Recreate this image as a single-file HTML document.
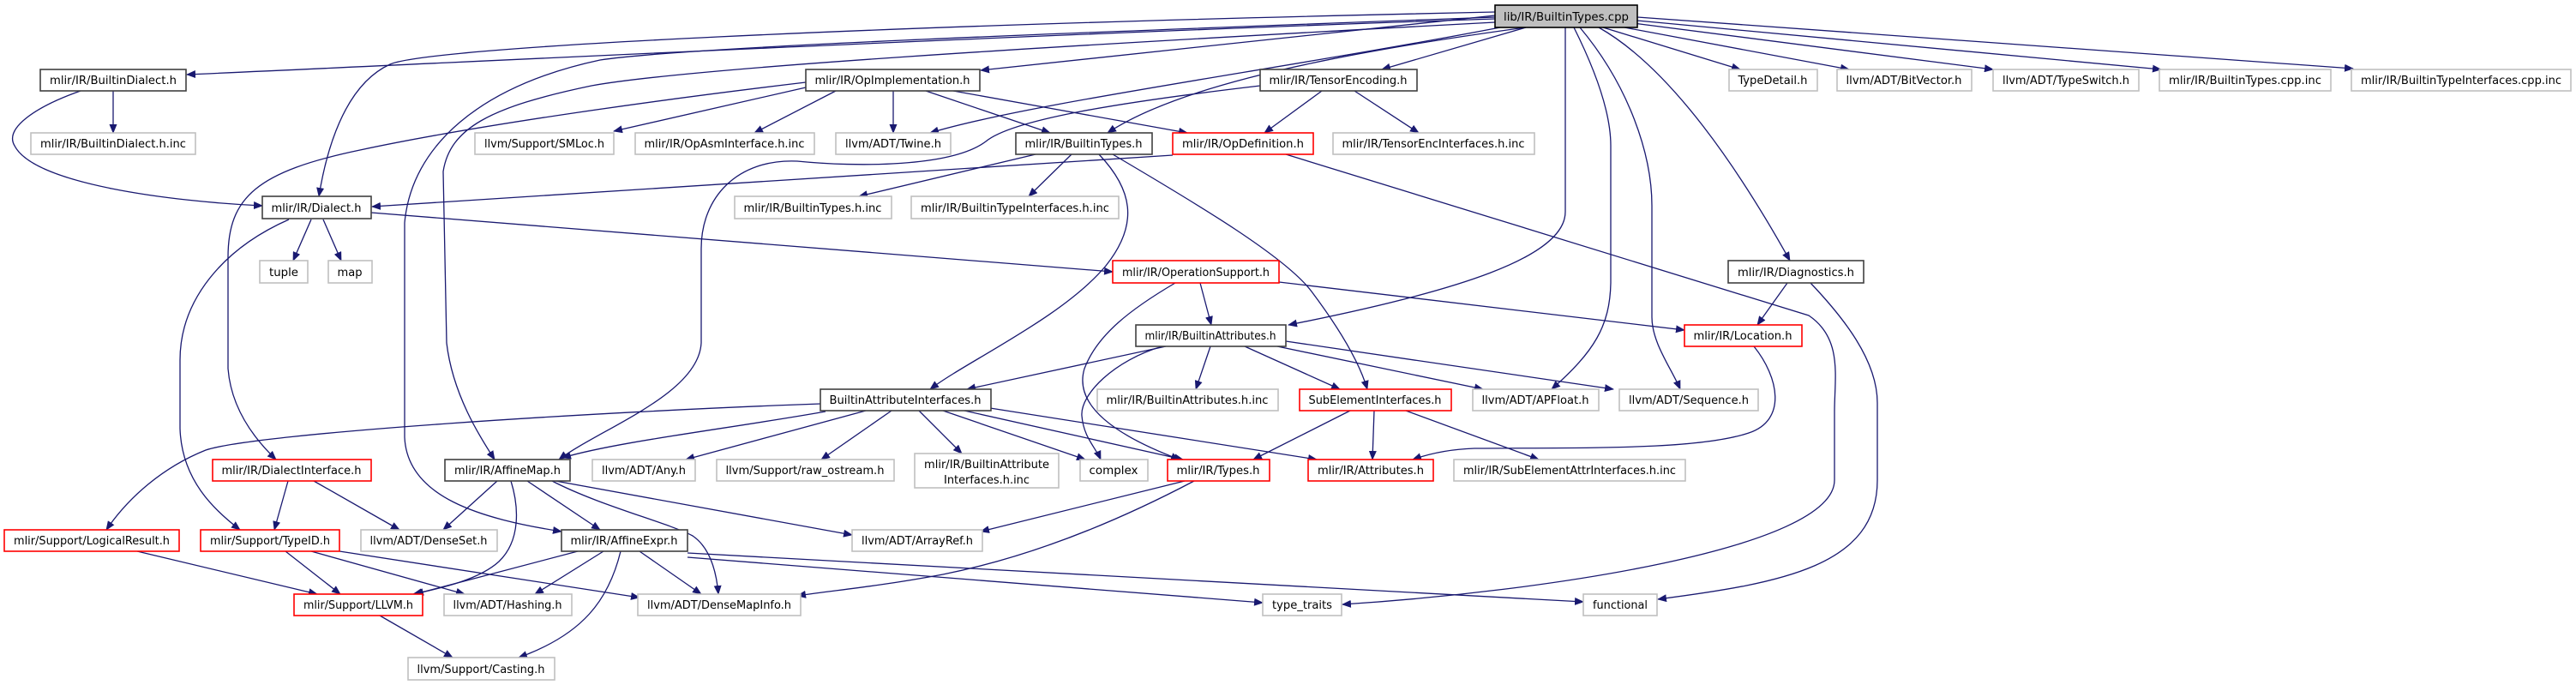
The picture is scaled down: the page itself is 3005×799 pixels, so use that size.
<!DOCTYPE html>
<html><head><meta charset="utf-8">
<style>
html,body{margin:0;padding:0;background:#fff;}
svg{display:block;}
text{font-family:"DejaVu Sans Condensed","DejaVu Sans","Liberation Sans",sans-serif;font-size:13px;fill:#000;text-anchor:middle;}
.e{fill:none;stroke:#191970;stroke-width:1.3;marker-end:url(#a);}
.k{fill:#fff;stroke:#404040;stroke-width:1.6;}
.g{fill:#fff;stroke:#bfbfbf;stroke-width:1.6;}
.r{fill:#fff;stroke:#ff0000;stroke-width:1.6;}
</style></head><body>
<svg width="3005" height="799" viewBox="0 0 3005 799" xmlns="http://www.w3.org/2000/svg">
<defs><marker id="a" markerWidth="11" markerHeight="9" refX="10" refY="4.5" orient="auto" markerUnits="userSpaceOnUse"><path d="M0,0 L11,4.5 L0,9z" fill="#191970"/></marker></defs>
<g>
<path class="e" d="M1744,22 C1200,40 600,70 218,87"/>
<path class="e" d="M1744,14 C1000,30 500,55 455,75 C400,100 380,180 372,229"/>
<path class="e" d="M1744,18 L1144,82"/>
<path class="e" d="M1750,32 C1500,80 1200,120 1085,155"/>
<path class="e" d="M1780,32 C1500,70 1360,110 1292,155"/>
<path class="e" d="M1744,26 C1200,55 800,80 690,100 C570,125 525,150 517,200 L521,400 C528,460 560,510 577,536"/>
<path class="e" d="M1744,20 C1200,40 800,55 700,70 C560,100 480,170 472,260 L472,510 C475,580 560,605 655,620"/>
<path class="e" d="M1780,32 L1612,81"/>
<path class="e" d="M1826,32 L1826,247 C1826,300 1700,340 1503,379"/>
<path class="e" d="M1836,32 C1860,80 1879,130 1879,170 L1879,330 C1878,380 1860,410 1810,454"/>
<path class="e" d="M1843,32 C1900,100 1927,180 1927,240 L1927,370 C1927,400 1950,430 1960,454"/>
<path class="e" d="M1865,32 C1950,80 2030,200 2088,304"/>
<path class="e" d="M1870,32 L2030,81"/>
<path class="e" d="M1895,32 L2157,81"/>
<path class="e" d="M1905,27 L2325,81"/>
<path class="e" d="M1910,24 L2521,81"/>
<path class="e" d="M1910,20 L2745,80"/>
<path class="e" d="M132,106 L132,155"/>
<path class="e" d="M94,106 C40,125 5,150 17,170 C40,215 200,235 306,240"/>
<path class="e" d="M940,102 L716,153"/>
<path class="e" d="M940,96 C780,115 560,145 420,175 C300,200 266,230 266,300 L266,430 C270,480 300,515 322,536"/>
<path class="e" d="M975,106 L880,155"/>
<path class="e" d="M1042,106 L1042,155"/>
<path class="e" d="M1080,106 L1225,155"/>
<path class="e" d="M1112,106 L1385,155"/>
<path class="e" d="M1542,106 L1475,155"/>
<path class="e" d="M1580,106 L1655,155"/>
<path class="e" d="M1470,100 C1300,120 1180,140 1150,165 C1110,195 1000,195 930,188 C860,185 818,230 818,290 L818,400 C815,460 700,500 652,536"/>
<path class="e" d="M1208,180 L1002,229"/>
<path class="e" d="M1250,180 L1200,229"/>
<path class="e" d="M1282,180 C1320,220 1330,260 1290,310 C1240,370 1130,420 1085,454"/>
<path class="e" d="M1298,180 C1400,240 1500,300 1530,340 C1560,380 1585,420 1595,454"/>
<path class="e" d="M1368,181 L434,241"/>
<path class="e" d="M1500,180 L2110,368 C2150,395 2140,440 2140,480 L2140,560 C2140,640 1800,690 1566,705"/>
<path class="e" d="M363,256 L342,304"/>
<path class="e" d="M377,256 L398,304"/>
<path class="e" d="M433,248 L1298,317"/>
<path class="e" d="M337,256 C260,290 210,350 210,420 L210,500 C212,560 250,595 280,618"/>
<path class="e" d="M1492,329 L1965,385"/>
<path class="e" d="M1400,330 L1413,379"/>
<path class="e" d="M1371,330 C1320,360 1280,390 1265,430 C1250,480 1320,515 1376,536"/>
<path class="e" d="M1360,404 L1128,454"/>
<path class="e" d="M1356,404 C1300,420 1260,460 1262,485 C1264,510 1278,522 1284,536"/>
<path class="e" d="M1412,404 L1395,454"/>
<path class="e" d="M1452,404 L1563,454"/>
<path class="e" d="M1490,404 L1730,454"/>
<path class="e" d="M1500,398 L1882,454"/>
<path class="e" d="M2085,330 L2050,379"/>
<path class="e" d="M2112,330 C2150,370 2190,420 2190,470 L2190,560 C2190,660 2080,680 1934,699"/>
<path class="e" d="M2046,404 C2075,440 2085,490 2040,505 C1980,525 1850,522 1720,523 C1690,524 1665,530 1648,536"/>
<path class="e" d="M957,471 C700,480 300,505 240,525 C190,545 150,580 124,618"/>
<path class="e" d="M963,480 C850,500 720,515 656,534"/>
<path class="e" d="M1010,479 L800,536"/>
<path class="e" d="M1040,479 L958,536"/>
<path class="e" d="M1072,479 L1122,529"/>
<path class="e" d="M1100,479 L1266,536"/>
<path class="e" d="M1125,479 L1380,536"/>
<path class="e" d="M1155,476 L1536,536"/>
<path class="e" d="M1575,479 L1462,536"/>
<path class="e" d="M1603,479 L1601,536"/>
<path class="e" d="M1640,479 L1795,536"/>
<path class="e" d="M1382,561 L1144,620"/>
<path class="e" d="M1393,561 C1300,610 1200,650 1100,670 C1020,685 960,690 930,695"/>
<path class="e" d="M580,561 L517,618"/>
<path class="e" d="M596,561 C605,590 608,630 582,655 C560,675 520,685 482,693"/>
<path class="e" d="M615,561 L700,618"/>
<path class="e" d="M648,561 L994,624"/>
<path class="e" d="M644,561 C700,590 780,610 808,625 C830,640 836,670 838,693"/>
<path class="e" d="M336,561 L320,618"/>
<path class="e" d="M366,561 L466,618"/>
<path class="e" d="M160,643 L370,693"/>
<path class="e" d="M333,643 L397,693"/>
<path class="e" d="M363,643 L542,693"/>
<path class="e" d="M396,643 L746,697"/>
<path class="e" d="M674,643 L484,693"/>
<path class="e" d="M704,643 L624,693"/>
<path class="e" d="M746,643 L818,693"/>
<path class="e" d="M724,643 C710,700 680,740 605,767"/>
<path class="e" d="M802,650 L1473,703"/>
<path class="e" d="M802,645 L1847,702"/>
<path class="e" d="M443,718 L528,767"/>
</g>
<g>
<rect x="1744" y="6" width="166" height="26" fill="#bfbfbf" stroke="#000" stroke-width="1.6"/><text x="1827" y="24" textLength="146" lengthAdjust="spacingAndGlyphs">lib/IR/BuiltinTypes.cpp</text>

<rect class="k" x="47" y="81" width="170" height="25"/><text x="132" y="98" textLength="148" lengthAdjust="spacingAndGlyphs">mlir/IR/BuiltinDialect.h</text>
<rect class="k" x="940" y="81" width="203" height="25"/><text x="1041" y="98" textLength="181" lengthAdjust="spacingAndGlyphs">mlir/IR/OpImplementation.h</text>
<rect class="k" x="1470" y="81" width="183" height="25"/><text x="1561" y="98" textLength="161" lengthAdjust="spacingAndGlyphs">mlir/IR/TensorEncoding.h</text>
<rect class="g" x="2017" y="81" width="103" height="25"/><text x="2068" y="98" textLength="81" lengthAdjust="spacingAndGlyphs">TypeDetail.h</text>
<rect class="g" x="2143" y="81" width="157" height="25"/><text x="2221" y="98" textLength="135" lengthAdjust="spacingAndGlyphs">llvm/ADT/BitVector.h</text>
<rect class="g" x="2325" y="81" width="170" height="25"/><text x="2410" y="98" textLength="148" lengthAdjust="spacingAndGlyphs">llvm/ADT/TypeSwitch.h</text>
<rect class="g" x="2519" y="81" width="200" height="25"/><text x="2619" y="98" textLength="178" lengthAdjust="spacingAndGlyphs">mlir/IR/BuiltinTypes.cpp.inc</text>
<rect class="g" x="2743" y="81" width="256" height="25"/><text x="2871" y="98" textLength="234" lengthAdjust="spacingAndGlyphs">mlir/IR/BuiltinTypeInterfaces.cpp.inc</text>

<rect class="g" x="36" y="155" width="192" height="25"/><text x="132" y="172" textLength="170" lengthAdjust="spacingAndGlyphs">mlir/IR/BuiltinDialect.h.inc</text>
<rect class="g" x="554" y="155" width="162" height="25"/><text x="635" y="172" textLength="140" lengthAdjust="spacingAndGlyphs">llvm/Support/SMLoc.h</text>
<rect class="g" x="741" y="155" width="209" height="25"/><text x="845" y="172" textLength="187" lengthAdjust="spacingAndGlyphs">mlir/IR/OpAsmInterface.h.inc</text>
<rect class="g" x="975" y="155" width="134" height="25"/><text x="1042" y="172" textLength="112" lengthAdjust="spacingAndGlyphs">llvm/ADT/Twine.h</text>
<rect class="k" x="1185" y="155" width="159" height="25"/><text x="1264" y="172" textLength="137" lengthAdjust="spacingAndGlyphs">mlir/IR/BuiltinTypes.h</text>
<rect class="r" x="1368" y="155" width="164" height="25"/><text x="1450" y="172" textLength="142" lengthAdjust="spacingAndGlyphs">mlir/IR/OpDefinition.h</text>
<rect class="g" x="1555" y="155" width="235" height="25"/><text x="1672" y="172" textLength="213" lengthAdjust="spacingAndGlyphs">mlir/IR/TensorEncInterfaces.h.inc</text>

<rect class="k" x="306" y="229" width="127" height="26"/><text x="369" y="247" textLength="105" lengthAdjust="spacingAndGlyphs">mlir/IR/Dialect.h</text>
<rect class="g" x="857" y="229" width="183" height="26"/><text x="948" y="247" textLength="161" lengthAdjust="spacingAndGlyphs">mlir/IR/BuiltinTypes.h.inc</text>
<rect class="g" x="1063" y="229" width="242" height="26"/><text x="1184" y="247" textLength="220" lengthAdjust="spacingAndGlyphs">mlir/IR/BuiltinTypeInterfaces.h.inc</text>

<rect class="g" x="303" y="304" width="56" height="26"/><text x="331" y="322" textLength="34" lengthAdjust="spacingAndGlyphs">tuple</text>
<rect class="g" x="383" y="304" width="51" height="26"/><text x="408" y="322" textLength="29" lengthAdjust="spacingAndGlyphs">map</text>
<rect class="r" x="1298" y="304" width="194" height="26"/><text x="1395" y="322" textLength="172" lengthAdjust="spacingAndGlyphs">mlir/IR/OperationSupport.h</text>
<rect class="k" x="2016" y="304" width="158" height="26"/><text x="2095" y="322" textLength="136" lengthAdjust="spacingAndGlyphs">mlir/IR/Diagnostics.h</text>

<rect class="k" x="1325" y="379" width="175" height="25"/><text x="1412" y="396" textLength="153" lengthAdjust="spacingAndGlyphs">mlir/IR/BuiltinAttributes.h</text>
<rect class="r" x="1965" y="379" width="137" height="25"/><text x="2033" y="396" textLength="115" lengthAdjust="spacingAndGlyphs">mlir/IR/Location.h</text>

<rect class="k" x="957" y="454" width="199" height="25"/><text x="1056" y="471" textLength="177" lengthAdjust="spacingAndGlyphs">BuiltinAttributeInterfaces.h</text>
<rect class="g" x="1280" y="454" width="211" height="25"/><text x="1385" y="471" textLength="189" lengthAdjust="spacingAndGlyphs">mlir/IR/BuiltinAttributes.h.inc</text>
<rect class="r" x="1516" y="454" width="177" height="25"/><text x="1604" y="471" textLength="155" lengthAdjust="spacingAndGlyphs">SubElementInterfaces.h</text>
<rect class="g" x="1718" y="454" width="147" height="25"/><text x="1791" y="471" textLength="125" lengthAdjust="spacingAndGlyphs">llvm/ADT/APFloat.h</text>
<rect class="g" x="1889" y="454" width="162" height="25"/><text x="1970" y="471" textLength="140" lengthAdjust="spacingAndGlyphs">llvm/ADT/Sequence.h</text>

<rect class="r" x="248" y="536" width="185" height="25"/><text x="340" y="553" textLength="163" lengthAdjust="spacingAndGlyphs">mlir/IR/DialectInterface.h</text>
<rect class="k" x="519" y="536" width="146" height="25"/><text x="592" y="553" textLength="124" lengthAdjust="spacingAndGlyphs">mlir/IR/AffineMap.h</text>
<rect class="g" x="691" y="536" width="120" height="25"/><text x="751" y="553" textLength="98" lengthAdjust="spacingAndGlyphs">llvm/ADT/Any.h</text>
<rect class="g" x="836" y="536" width="207" height="25"/><text x="939" y="553" textLength="185" lengthAdjust="spacingAndGlyphs">llvm/Support/raw_ostream.h</text>
<rect class="g" x="1067" y="529" width="168" height="40"/><text x="1151" y="546" textLength="146" lengthAdjust="spacingAndGlyphs">mlir/IR/BuiltinAttribute</text><text x="1151" y="564" textLength="100" lengthAdjust="spacingAndGlyphs">Interfaces.h.inc</text>
<rect class="g" x="1260" y="536" width="79" height="25"/><text x="1299" y="553" textLength="57" lengthAdjust="spacingAndGlyphs">complex</text>
<rect class="r" x="1362" y="536" width="119" height="25"/><text x="1421" y="553" textLength="97" lengthAdjust="spacingAndGlyphs">mlir/IR/Types.h</text>
<rect class="r" x="1526" y="536" width="146" height="25"/><text x="1599" y="553" textLength="124" lengthAdjust="spacingAndGlyphs">mlir/IR/Attributes.h</text>
<rect class="g" x="1696" y="536" width="270" height="25"/><text x="1831" y="553" textLength="248" lengthAdjust="spacingAndGlyphs">mlir/IR/SubElementAttrInterfaces.h.inc</text>

<rect class="r" x="5" y="618" width="204" height="25"/><text x="107" y="635" textLength="182" lengthAdjust="spacingAndGlyphs">mlir/Support/LogicalResult.h</text>
<rect class="r" x="234" y="618" width="162" height="25"/><text x="315" y="635" textLength="140" lengthAdjust="spacingAndGlyphs">mlir/Support/TypeID.h</text>
<rect class="g" x="421" y="618" width="159" height="25"/><text x="500" y="635" textLength="137" lengthAdjust="spacingAndGlyphs">llvm/ADT/DenseSet.h</text>
<rect class="k" x="655" y="618" width="147" height="25"/><text x="728" y="635" textLength="125" lengthAdjust="spacingAndGlyphs">mlir/IR/AffineExpr.h</text>
<rect class="g" x="994" y="618" width="152" height="25"/><text x="1070" y="635" textLength="130" lengthAdjust="spacingAndGlyphs">llvm/ADT/ArrayRef.h</text>

<rect class="r" x="343" y="693" width="150" height="25"/><text x="418" y="710" textLength="128" lengthAdjust="spacingAndGlyphs">mlir/Support/LLVM.h</text>
<rect class="g" x="518" y="693" width="149" height="25"/><text x="592" y="710" textLength="127" lengthAdjust="spacingAndGlyphs">llvm/ADT/Hashing.h</text>
<rect class="g" x="744" y="693" width="190" height="25"/><text x="839" y="710" textLength="168" lengthAdjust="spacingAndGlyphs">llvm/ADT/DenseMapInfo.h</text>
<rect class="g" x="1473" y="693" width="92" height="25"/><text x="1519" y="710" textLength="70" lengthAdjust="spacingAndGlyphs">type_traits</text>
<rect class="g" x="1847" y="693" width="86" height="25"/><text x="1890" y="710" textLength="64" lengthAdjust="spacingAndGlyphs">functional</text>

<rect class="g" x="476" y="767" width="171" height="26"/><text x="561" y="785" textLength="149" lengthAdjust="spacingAndGlyphs">llvm/Support/Casting.h</text>
</g>
</svg>
</body></html>
